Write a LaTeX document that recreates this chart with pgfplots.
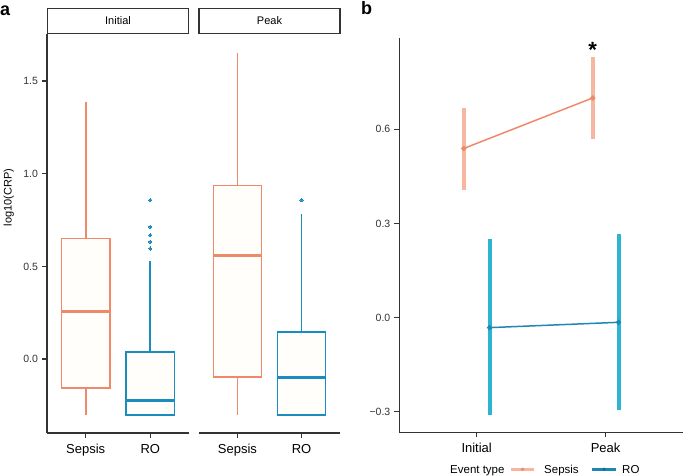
\documentclass[border=0pt]{standalone}
\usepackage{fontspec}
\setmainfont{Liberation Sans}
\usepackage{pgfplots}
\pgfplotsset{compat=1.18}
\usepgfplotslibrary{statistics}

\definecolor{sepsis}{HTML}{EE8A6A}
\definecolor{sepErr}{HTML}{F6B6A0}
\definecolor{ro}{HTML}{1A8CC0}
\definecolor{roLine}{HTML}{1F87B4}
\definecolor{roErr}{HTML}{2DB4D2}
\definecolor{axgray}{HTML}{333333}
\definecolor{boxfill}{HTML}{FFFEFA}

\tikzset{tk/.style={draw=axgray, line width=1.4pt}}

\pgfplotsset{
  panelbase/.style={
    scale only axis,
    clip=false,
    axis line style={draw=axgray, line width=1.4pt},
    tick align=outside,
    major tick length=5pt,
    tick style={draw=axgray, line width=1.4pt},
    x tick label style={font=\fontsize{13}{15}\selectfont, text=black, yshift=-2.5pt},
    y tick label style={font=\fontsize{10.5}{12}\selectfont, text=black!80, xshift=-0.5pt},
  },
  facet/.style={
    panelbase,
    width=142pt, height=399pt,
    xmin=0.4, xmax=2.6,
    ymin=-0.399, ymax=1.754,
    xtick={1,2}, xticklabels={Sepsis,RO},
    boxplot/draw direction=y,
    boxplot/whisker extend=0,
    boxplot/box extend=0.75,
    boxplot/every median/.style={line width=3pt},
    every axis title/.style={at={(0.5,1)}, anchor=south,
      draw=axgray, line width=1.3pt, fill=white,
      minimum width=141pt, minimum height=25pt, inner sep=0pt,
      font=\fontsize{11}{13}\selectfont},
  },
}

\begin{document}
\begin{tikzpicture}
\useasboundingbox (0,0) rectangle (685pt,476pt);

% panel a, facet "Initial"
\begin{axis}[facet,
  at={(47pt,43pt)}, anchor=south west,
  axis lines*=left,
  ytick={0,0.5,1,1.5}, yticklabels={0.0,0.5,1.0,1.5},
  ylabel={log10(CRP)},
  ylabel style={font=\fontsize{11}{13}\selectfont, at={(axis description cs:-0.27,0.59)}, anchor=center},
  title={Initial},
]
\addplot[sepsis, line width=1.7pt, fill=boxfill,
  boxplot prepared={draw position=1, lower whisker=-0.30, lower quartile=-0.155,
    median=0.255, upper quartile=0.651, upper whisker=1.387}] coordinates {};
\addplot[ro, line width=1.7pt, fill=boxfill,
  mark=*, mark size=1.6pt, mark options={fill=ro, draw=ro, line width=0pt},
  boxplot prepared={draw position=2, lower whisker=-0.30, lower quartile=-0.30,
    median=-0.225, upper quartile=0.038, upper whisker=0.527}]
  coordinates {(2,0.858) (2,0.714) (2,0.669) (2,0.633) (2,0.597)};
\coordinate (ax1) at (axis cs:1,-0.399);
\coordinate (ax2) at (axis cs:2,-0.399);
\coordinate (ay0) at (axis cs:0.4,0);
\coordinate (ay1) at (axis cs:0.4,0.5);
\coordinate (ay2) at (axis cs:0.4,1);
\coordinate (ay3) at (axis cs:0.4,1.5);
\end{axis}

% panel a, facet "Peak"
\begin{axis}[facet,
  at={(199pt,43pt)}, anchor=south west, width=141pt,
  axis x line*=bottom, axis y line=none, ytick=\empty,
  title={Peak},
]
\addplot[sepsis, line width=1.7pt, fill=boxfill,
  boxplot prepared={draw position=1, lower whisker=-0.30, lower quartile=-0.097,
    median=0.558, upper quartile=0.937, upper whisker=1.65}] coordinates {};
\addplot[ro, line width=1.7pt, fill=boxfill,
  mark=*, mark size=1.6pt, mark options={fill=ro, draw=ro, line width=0pt},
  boxplot prepared={draw position=2, lower whisker=-0.30, lower quartile=-0.30,
    median=-0.099, upper quartile=0.146, upper whisker=0.782}]
  coordinates {(2,0.858)};
\coordinate (bx1) at (axis cs:1,-0.399);
\coordinate (bx2) at (axis cs:2,-0.399);
\end{axis}

% panel b
\begin{axis}[panelbase,
  at={(399.3pt,43.7pt)}, anchor=south west,
  width=283.7pt, height=394pt,
  xmin=0.4, xmax=2.6, ymin=-0.3655, ymax=0.890,
  axis lines*=left,
  xtick={1,2}, xticklabels={Initial,Peak},
  ytick={-0.3,0,0.3,0.6}, yticklabels={−0.3,0.0,0.3,0.6},
]
\addplot[draw=none, mark=none, forget plot,
  error bars/.cd, y dir=both, y explicit, error mark=none,
  error bar style={draw=sepErr, line width=4pt}]
  coordinates {(0.9,0.539) += (0,0.130) -= (0,0.133)
               (1.9,0.700) += (0,0.131) -= (0,0.132)};
\addplot[draw=none, mark=none, forget plot,
  error bars/.cd, y dir=both, y explicit, error mark=none,
  error bar style={draw=roErr, line width=4pt}]
  coordinates {(1.1,-0.032) += (0,0.282) -= (0,0.277)
               (2.1,-0.015) += (0,0.280) -= (0,0.278)};
\addplot[sepsis, line width=1.5pt, mark=*, mark size=1.8pt, forget plot]
  coordinates {(0.9,0.539) (1.9,0.700)};
\addplot[roLine, line width=1.5pt, mark=*, mark size=1.8pt, forget plot]
  coordinates {(1.1,-0.032) (2.1,-0.015)};
\node[anchor=base, inner sep=0pt, font=\bfseries\fontsize{22}{22}\selectfont]
  at (axis cs:1.9,0.828) {*};
\coordinate (cx1) at (axis cs:1,-0.3655);
\coordinate (cx2) at (axis cs:2,-0.3655);
\coordinate (cy0) at (axis cs:0.4,-0.3);
\coordinate (cy1) at (axis cs:0.4,0);
\coordinate (cy2) at (axis cs:0.4,0.3);
\coordinate (cy3) at (axis cs:0.4,0.6);
\end{axis}

% tick marks
\foreach \c in {ax1,ax2,bx1,bx2,cx1,cx2} \draw[tk] (\c) -- ++(0pt,-5pt);
\foreach \c in {ay0,ay1,ay2,ay3,cy0,cy1,cy2,cy3} \draw[tk] (\c) -- ++(-5pt,0pt);

% panel letters
\node[anchor=base west, inner sep=0pt, font=\bfseries\fontsize{18}{18}\selectfont] at (0pt,460.5pt) {a};
\node[anchor=base west, inner sep=0pt, font=\bfseries\fontsize{18}{18}\selectfont] at (361pt,461pt) {b};

% legend
\begin{scope}[font=\fontsize{11.5}{13}\selectfont]
\node[anchor=base west, inner sep=0pt] at (450pt,2pt) {Event type};
\draw[sepErr, line width=3pt] (511pt,6.7pt) -- (534pt,6.7pt);
\fill[sepsis] (522.5pt,6.7pt) circle (1.8pt);
\node[anchor=base west, inner sep=0pt] at (544pt,2pt) {Sepsis};
\draw[roLine, line width=3pt] (592pt,6.7pt) -- (616pt,6.7pt);
\fill[roLine!80!black] (604pt,6.7pt) circle (1.8pt);
\node[anchor=base west, inner sep=0pt] at (622pt,2pt) {RO};
\end{scope}
\end{tikzpicture}
\end{document}
